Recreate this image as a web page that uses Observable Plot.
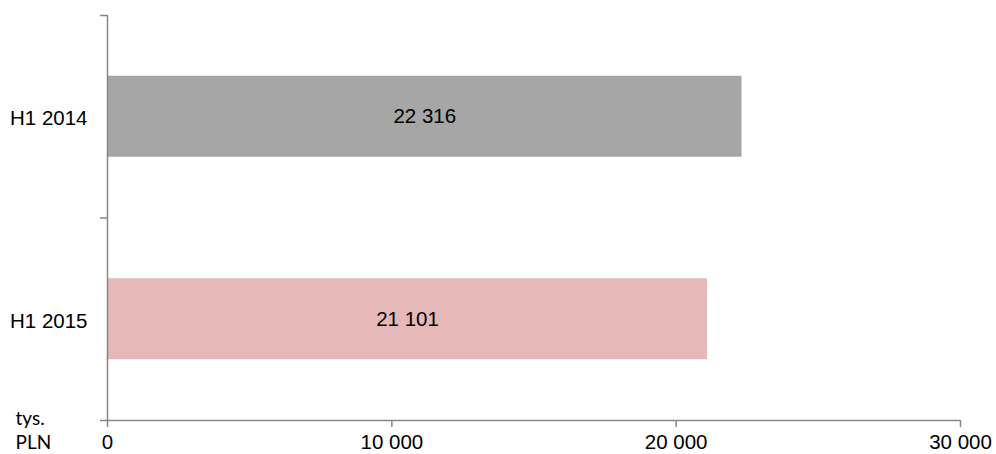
<!DOCTYPE html>
<html><head><meta charset="utf-8">
<script src="https://cdn.jsdelivr.net/npm/d3@7"></script>
<script src="https://cdn.jsdelivr.net/npm/@observablehq/plot@0.6"></script>
<style>body{margin:0;background:#fff}</style></head>
<body><div id="chart"></div>
<script>
const categories = ["H1 2014", "H1 2015"];
const values = [22316, 21101];
const xTicks = [0, 10000, 20000, 30000];
const unitLabel = "tys.\nPLN";

const barColors = ["#a6a6a6", "#e6b9b8"];
const axisColor = "#868686";
const fmt = d => d3.format(",")(d).replace(/,/g, " ");
const data = categories.map((c, i) => ({category: c, value: values[i], slot: i}));
const boundaries = d3.range(categories.length + 1);

const plot = Plot.plot({
  width: 996, height: 454,
  marginLeft: 107, marginRight: 36, marginTop: 15, marginBottom: 34,
  style: {fontFamily: "'Liberation Sans', Arial, sans-serif", fontSize: "20px", color: "#000", background: "#fff", overflow: "visible"},
  x: {domain: [0, 30000], label: null},
  y: {domain: [0, categories.length], reverse: true, label: null},
  color: {domain: categories, range: barColors},
  marks: [
    Plot.rectX(data, {x1: 0, x2: "value", y1: d => d.slot + 0.3, y2: d => d.slot + 0.7, fill: "category"}),
    Plot.text(data, {x: d => d.value / 2, y: d => d.slot + 0.5, text: d => fmt(d.value), fill: "#000", fontSize: 20.5}),
    Plot.text(data, {x: 0, y: d => d.slot + 0.5, text: "category", textAnchor: "end", dx: -20, dy: 2, fill: "#000", fontSize: 20.5}),
    Plot.ruleX([0], {stroke: axisColor, strokeWidth: 1.5}),
    Plot.ruleY([categories.length], {stroke: axisColor, strokeWidth: 1.5}),
    Plot.axisY(boundaries, {tickSize: 7, tickFormat: () => "", label: null, stroke: axisColor, strokeWidth: 1.5}),
    Plot.axisX(xTicks, {tickSize: 7, tickPadding: 7, tickFormat: fmt, label: null, stroke: axisColor, fill: "#000", strokeWidth: 1.5, fontSize: 20.5}),
    Plot.text([unitLabel], {frameAnchor: "bottom-left", dx: -92, dy: 9, textAnchor: "start", lineAnchor: "middle", lineHeight: 1.25, fontFamily: "Lato", fontSize: 19, fill: "#000"})
  ]
});
document.getElementById("chart").append(plot);
</script>
</body></html>
